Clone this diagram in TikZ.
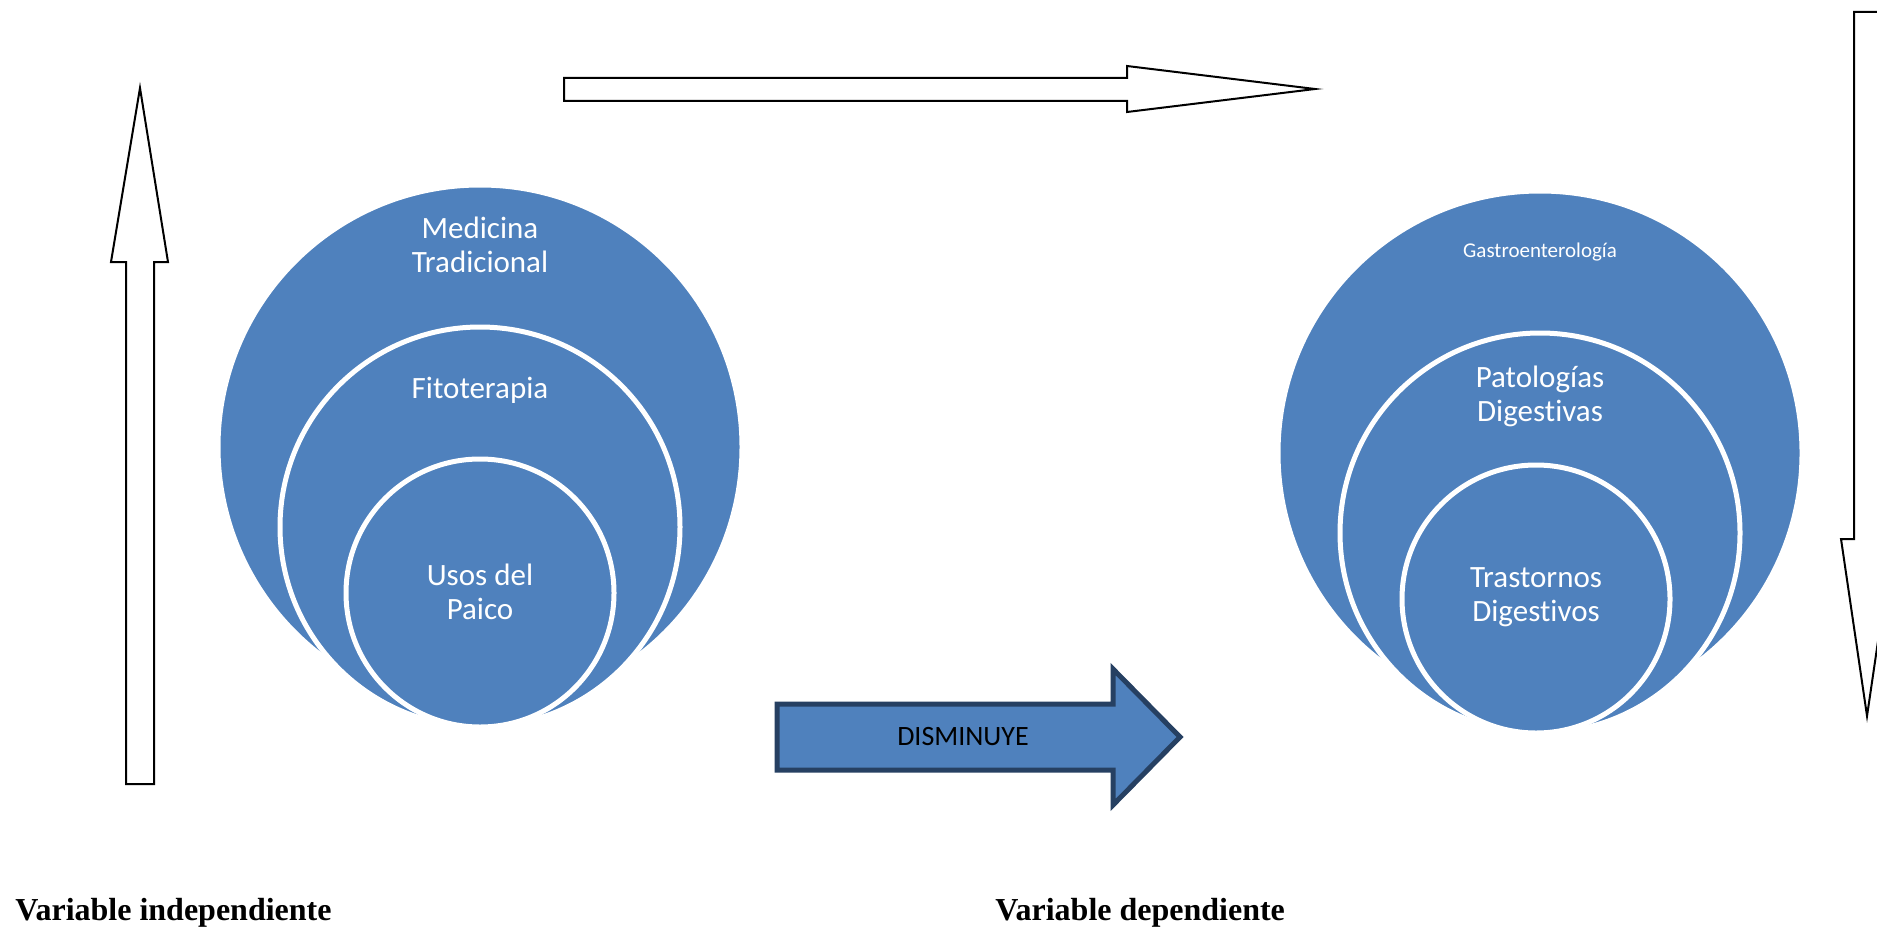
\documentclass[tikz,border=0pt]{standalone}
\usepackage{fontspec}
\setmainfont{Liberation Serif}
\newfontfamily\calibri{Carlito}[Ligatures=NoCommon]
\definecolor{paicoblue}{HTML}{4F81BD}
\definecolor{edgeblue}{RGB}{38,64,98}
\tikzset{
  disc/.style={circle, fill=paicoblue, draw=white, line width=2.5pt, inner sep=0pt},
  hollowarrow/.style={draw=black, fill=white, line width=1pt, line join=miter},
  disctext/.style={text=white, align=center, inner sep=0pt,
    font=\calibri\fontsize{15.5}{17}\selectfont},
  varlabel/.style={anchor=west, inner sep=0pt, font=\bfseries\fontsize{16}{19}\selectfont}
}

\begin{document}
\begin{tikzpicture}[x=0.5pt,y=-0.5pt]
\clip (0,0) rectangle (1877,931);
\fill[white] (0,0) rectangle (1877,931);

% white block arrows
\draw[hollowarrow] (126,784) -- (126,262) -- (111,262) -- (140,88) -- (168,262) -- (154,262) -- (154,784) -- cycle;
\draw[hollowarrow] (564,78) -- (1127,78) -- (1127,66) -- (1315,89) -- (1127,112) -- (1127,101) -- (564,101) -- cycle;
\draw[hollowarrow] (1854,12) -- (1854,539) -- (1841,539) -- (1867,716) -- (1893,539) -- (1880,539) -- (1880,12) -- cycle;

% nested circles
\foreach \cx/\cy/\r/\nm in {480/447/262/medicina, 480/527/200/fito, 480/593/134/usos,
    1540/453/262/gastro, 1540/533/200/patol, 1536/599/134/trast}
  \node[disc, minimum size=\r pt] (\nm) at (\cx,\cy) {};

\node[disctext] (medtxt) at (480,245) {Medicina\\Tradicional};
\node[disctext] (fitotxt) at (480,390) {Fitoterapia};
\node[disctext] (usostxt) at (480,592) {Usos del\\Paico};
\node[disctext, font=\calibri\fontsize{10.5}{12}\selectfont] (gastrotxt) at (1540,252) {Gastroenterología};
\node[disctext] (patoltxt) at (1540,396) {Patologías\\Digestivas};
\node[disctext] (trasttxt) at (1536,597) {Trastornos\\Digestivos};

% blue arrow
\draw[fill=paicoblue, draw=edgeblue, line width=2.5pt, line join=miter]
  (777,704) -- (1113,704) -- (1113,669) -- (1180,737) -- (1113,805) -- (1113,770) -- (777,770) -- cycle;
\node[inner sep=0pt, font=\calibri\fontsize{14}{16}\selectfont] (disminuye) at (963,737) {DISMINUYE};

% labels
\node[varlabel] (indep) at (15,913) {Variable independiente};
\node[varlabel] (dep) at (995,913) {Variable dependiente};
\end{tikzpicture}
\end{document}
